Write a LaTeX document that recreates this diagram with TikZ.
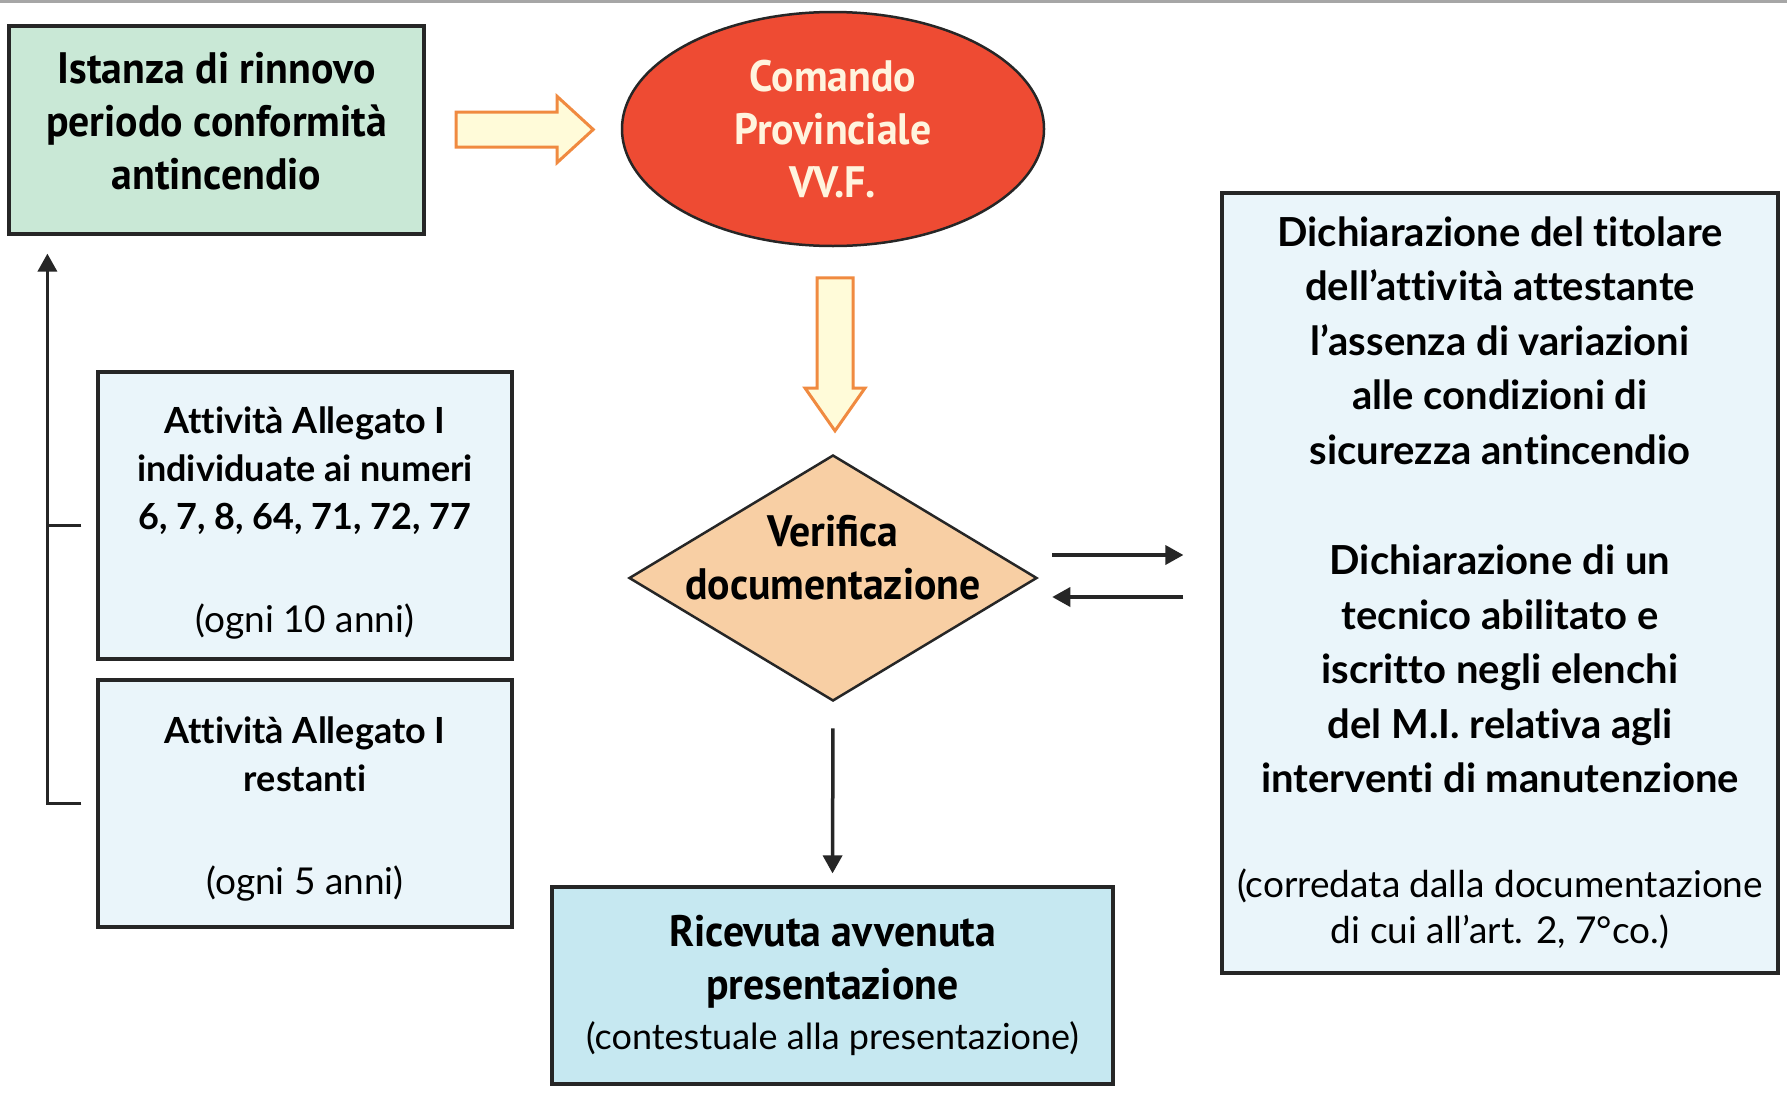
\documentclass[tikz,border=0pt]{standalone}
\usepackage{fontspec}
\setmainfont[FakeStretch=0.95]{PT Sans}
\newfontfamily\humfont[Ligatures=NoCommon]{Lato}
\usetikzlibrary{shapes.geometric,shapes.arrows,arrows.meta,calc}
\definecolor{mint}{HTML}{C9E8D6}
\definecolor{vvfred}{HTML}{EE4B33}
\definecolor{cream}{HTML}{FFF4DE}
\definecolor{paleyellow}{HTML}{FFFBD9}
\definecolor{arrowedge}{HTML}{F08A40}
\definecolor{peach}{HTML}{F8CFA4}
\definecolor{iceblue}{HTML}{EAF5FA}
\definecolor{skyblue}{HTML}{C6E8F1}
\definecolor{ink}{HTML}{262626}
\begin{document}
\begin{tikzpicture}[x=1pt,y=-1pt,
  box/.style={draw=ink, line width=3.2pt, inner sep=0pt, align=center},
  condbold/.style={font=\fontsize{44}{53}\selectfont\bfseries},
  humbold/.style={font=\humfont\fontsize{36}{48}\selectfont\bfseries},
  declbold/.style={font=\humfont\fontsize{40}{54.5}\selectfont\bfseries},
  hollow/.style={single arrow, draw=arrowedge, fill=paleyellow, line width=3pt, inner sep=0pt},
  link/.style={draw=ink, line width=3.5pt, -{Triangle[length=18pt,width=19pt]}},
]
\useasboundingbox (0,0) rectangle (1787,1095);
\fill[white] (0,0) rectangle (1787,1095);
\draw[gray!70, line width=3pt] (0,1.5) -- (1787,1.5);

% request box and provincial command
\node[box, fill=mint, minimum width=415pt, minimum height=208pt] (istanza) at (216.5,130) {};
\node[condbold, align=center] (istanzatxt) at ([yshift=9pt]istanza.center)
  {Istanza di rinnovo\\periodo conformità\\antincendio};
\node[ellipse, draw=ink, line width=2.5pt, fill=vvfred, minimum width=422pt,
  minimum height=234pt, inner sep=0pt, text=cream, condbold, align=center]
  (cmd) at (833,129) {Comando\\Provinciale\\VV.F.};

% document check
\node[diamond, draw=ink, line width=2.5pt, fill=peach, minimum width=408pt,
  minimum height=246pt, inner sep=0pt] (dia) at (833,578) {};
\node[condbold, align=center] (diatxt) at ([yshift=20pt]dia.center)
  {Verifica\\documentazione};

% hollow flow arrows
\node[hollow, minimum height=137pt, single arrow head extend=15.5pt,
  single arrow tip angle=85]
  (toCmd) at ([xshift=-8pt]$(istanza.east)!0.5!(cmd.west)$) {\rule{0pt}{32pt}};
\node[hollow, rotate=-90, minimum height=153pt, single arrow head extend=12pt,
  single arrow tip angle=70]
  (toCheck) at ([xshift=2pt,yshift=9pt]$(cmd.south)!0.5!(dia.north)$) {\rule{0pt}{33pt}};

% declarations box
\node[box, fill=iceblue, minimum width=556pt, minimum height=780pt, declbold]
  (decl) at (1500,583)
  {Dichiarazione del titolare\\dell’attività attestante\\l’assenza di variazioni\\alle condizioni di\\sicurezza antincendio\\[56pt]
   Dichiarazione di un\\tecnico abilitato e\\iscritto negli elenchi\\del M.I. relativa agli\\interventi di manutenzione\\[50pt]
   {\mdseries\fontsize{37}{46}\selectfont (corredata dalla documentazione}\\[-8pt]
   {\mdseries\fontsize{37}{46}\selectfont di cui all’art. 2, 7°co.)}};

% receipt box
\node[box, fill=skyblue, minimum width=561pt, minimum height=197pt, condbold]
  (ric) at (832.5,985.5)
  {Ricevuta avvenuta\\presentazione\\[-3pt]
   {\humfont\mdseries\fontsize{36}{50}\selectfont (contestuale alla presentazione)}};

% activity groups
\node[box, fill=iceblue, minimum width=414pt, minimum height=287pt, humbold]
  (att1) at (305,515.5) {};
\node[humbold, align=center] (att1txt) at ([yshift=-7pt]att1.center)
  {Attività Allegato I\\individuate ai numeri\\6, 7, 8, 64, 71, 72, 77\\[55pt]
   {\mdseries\fontsize{37}{48}\selectfont (ogni 10 anni)}};
\node[box, fill=iceblue, minimum width=414pt, minimum height=247pt, humbold]
  (att2) at (305,803.5) {};
\node[humbold, align=center] (att2txt) at ([yshift=-5pt]att2.center)
  {Attività Allegato I\\restanti\\[55pt]
   {\mdseries\fontsize{37}{48}\selectfont (ogni 5 anni)}};

% connectors
\draw[link, shorten <=14pt, shorten >=37pt]
  ([yshift=23pt]dia.east) -- ([yshift=23pt]dia.east -| decl.west);
\draw[link, shorten <=37pt, shorten >=14pt]
  ([yshift=-19pt]dia.east -| decl.west) -- ([yshift=-19pt]dia.east);
\draw[link, shorten <=26pt, shorten >=12pt] (dia.south) -- (ric.north);

% renewal bracket back to the request
\draw[draw=ink, line width=3.5pt] ([xshift=-15pt,yshift=-10pt]att1.west) -- ([xshift=-49pt,yshift=-10pt]att1.west);
\draw[link, shorten >=18pt] ([xshift=-15pt]att2.west) -- ([xshift=-49pt]att2.west)
  -- ([xshift=-49pt]att2.west |- istanza.south);
\end{tikzpicture}
\end{document}
